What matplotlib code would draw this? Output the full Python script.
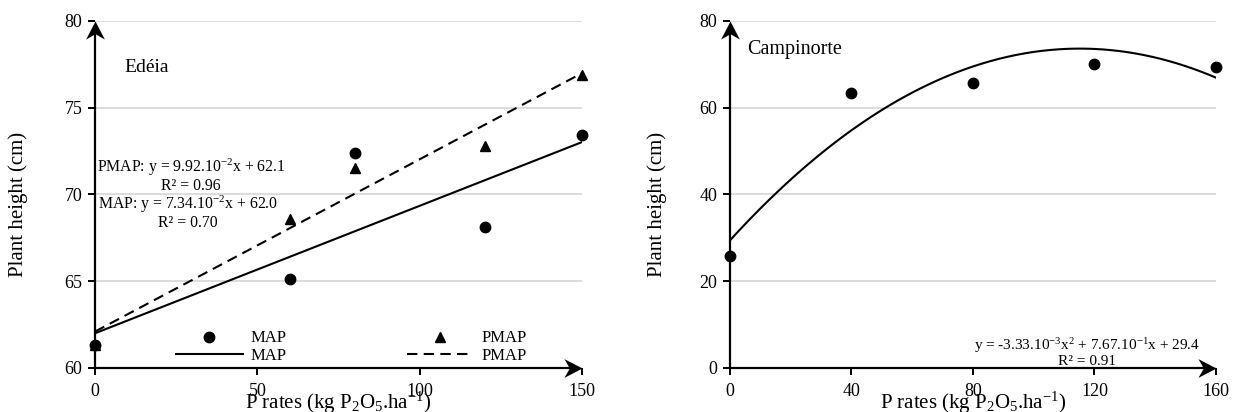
import numpy as np
import matplotlib
matplotlib.use("Agg")
import matplotlib.pyplot as plt
from matplotlib.path import Path

plt.rcParams['font.family'] = ['Liberation Serif', 'DejaVu Serif']
plt.rcParams['mathtext.fontset'] = 'custom'
plt.rcParams['mathtext.rm'] = 'Liberation Serif'
plt.rcParams['mathtext.it'] = 'Liberation Serif:italic'

# Edéia
rates_ed = [0, 60, 80, 120, 150]
map_ed = [61.3, 65.1, 72.4, 68.1, 73.4]
pmap_ed = [61.3, 68.6, 71.5, 72.8, 76.9]
map_coef = (7.34e-2, 62.0)
pmap_coef = (9.92e-2, 62.1)

# Campinorte
rates_cp = [0, 40, 80, 120, 160]
height_cp = [25.8, 63.3, 65.7, 70.1, 69.3]
quad_coef = (-3.33e-3, 7.67e-1, 29.4)

xlabel = r"P rates (kg P$\mathregular{_2}$O$\mathregular{_5}$.ha$\mathregular{^{-1}}$)"

# stealth-like arrow heads, tip at the origin
head_right = Path([(0, 0), (-1, 0.52), (-0.7, 0), (-1, -0.52), (0, 0)],
                  [Path.MOVETO, Path.LINETO, Path.LINETO, Path.LINETO, Path.CLOSEPOLY])
head_up = Path([(0, 0), (0.52, -1), (0, -0.7), (-0.52, -1), (0, 0)],
               [Path.MOVETO, Path.LINETO, Path.LINETO, Path.LINETO, Path.CLOSEPOLY])


def style_axes(ax, xlim, ylim, xticks, yticks, ylab_x):
    ax.set_xlim(*xlim)
    ax.set_ylim(*ylim)
    ax.set_xticks(xticks)
    ax.set_yticks(yticks)
    for s in ax.spines.values():
        s.set_visible(False)
    ax.grid(axis='y', color='#d9d9d9', lw=1.3)
    ax.set_axisbelow(True)
    ax.tick_params(labelsize=13, length=5, width=1.4, direction='out', pad=4)
    ax.tick_params(axis='x', pad=6)
    ax.plot([0, 0], [0, 0.98], transform=ax.transAxes, color='black', lw=1.6,
            clip_on=False, solid_capstyle='butt')
    ax.plot([0, 0.98], [0, 0], transform=ax.transAxes, color='black', lw=1.6,
            clip_on=False, solid_capstyle='butt')
    ax.plot([0], [1], marker=head_up, ms=26, color='black', mew=0,
            transform=ax.transAxes, clip_on=False)
    ax.plot([1], [0], marker=head_right, ms=26, color='black', mew=0,
            transform=ax.transAxes, clip_on=False)
    ax.set_xlabel(xlabel, fontsize=15, va='center')
    ax.xaxis.set_label_coords(0.5, -0.10)
    ax.set_ylabel('Plant height (cm)', fontsize=15, va='center')
    ax.yaxis.set_label_coords(ylab_x, 0.47)


fig = plt.figure(figsize=(12.36, 4.12), dpi=100)
ax1 = fig.add_axes([0.0769, 0.1068, 0.394, 0.843])
ax2 = fig.add_axes([0.5906, 0.1068, 0.3932, 0.843])

# left panel
xs = np.linspace(0, 150, 50)
ax1.plot(xs, map_coef[0] * xs + map_coef[1], color='black', lw=1.5, label='MAP')
ax1.plot(xs, pmap_coef[0] * xs + pmap_coef[1], color='black', lw=1.5,
         ls=(0, (5, 3)), label='PMAP')
ax1.plot(rates_ed, map_ed, 'o', color='black', ms=7.5, label='MAP', clip_on=False)
ax1.plot(rates_ed, pmap_ed, '^', color='black', ms=6.5, label='PMAP', clip_on=False)
style_axes(ax1, (0, 150), (60, 80), [0, 50, 100, 150], [60, 65, 70, 75, 80], -0.158)

h, l = ax1.get_legend_handles_labels()
ax1.legend([h[2], h[0], h[3], h[1]], [l[2], l[0], l[3], l[1]], ncol=2,
           frameon=False, fontsize=12, loc='lower left',
           bbox_to_anchor=(0.166, 0.012), borderaxespad=0, borderpad=0,
           handlelength=4.0, columnspacing=7.2, labelspacing=0.08,
           handletextpad=0.48)

ax1.text(8.9, 77.33, 'Edéia', fontsize=14, va='center')
ax1.text(29.6, 71.11,
         'PMAP: y = 9.92.10$\\mathregular{^{-2}}$x + 62.1\nR² = 0.96',
         fontsize=11.3, ha='center', va='center', multialignment='center',
         linespacing=1.02)
ax1.text(28.6, 68.95,
         'MAP: y = 7.34.10$\\mathregular{^{-2}}$x + 62.0\nR² = 0.70',
         fontsize=11.3, ha='center', va='center', multialignment='center',
         linespacing=1.02)

# right panel
xq = np.linspace(0, 160, 100)
ax2.plot(xq, quad_coef[0] * xq ** 2 + quad_coef[1] * xq + quad_coef[2],
         color='black', lw=1.5)
ax2.plot(rates_cp, height_cp, 'o', color='black', ms=7.5, clip_on=False)
style_axes(ax2, (0, 160), (0, 80), [0, 40, 80, 120, 160], [0, 20, 40, 60, 80], -0.150)
ax2.text(5.6, 73.25, 'Campinorte', fontsize=14.5, va='center')
ax2.text(117.4, 3.68,
         'y = -3.33.10$\\mathregular{^{-3}}$x$\\mathregular{^2}$ + 7.67.10$\\mathregular{^{-1}}$x + 29.4\nR² = 0.91',
         fontsize=11, ha='center', va='center', multialignment='center',
         linespacing=1.02)

fig.savefig('out.png', dpi=100)
